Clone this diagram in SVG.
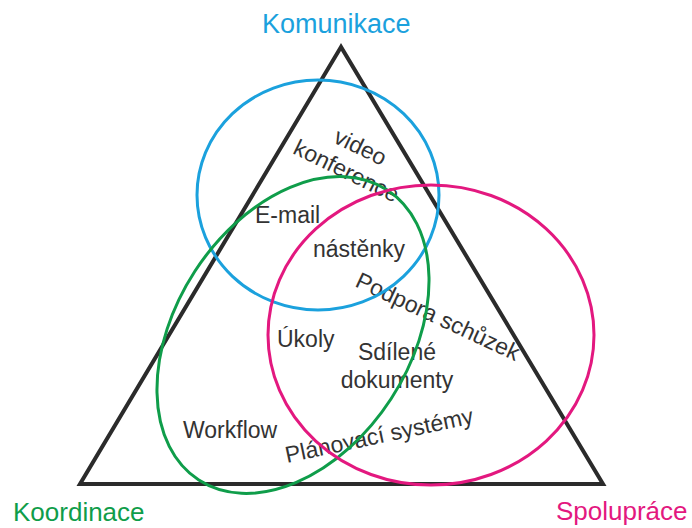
<svg xmlns="http://www.w3.org/2000/svg" width="692" height="528" viewBox="0 0 692 528">
  <style>
    .lbl { font-family: "Liberation Sans", Arial, sans-serif; font-size: 23px; fill: #333333; }
    .corner { font-family: "Liberation Sans", Arial, sans-serif; font-size: 27px; }
    .corner.low { font-size: 26px; }
    .ring { fill: none; stroke-width: 3; }
  </style>
  <rect width="692" height="528" fill="#ffffff"/>

  <!-- item labels -->
  <g id="labels">
    <text class="lbl" x="357" y="154" text-anchor="middle" transform="rotate(26 357 154)">video</text>
    <text class="lbl" x="343" y="178" text-anchor="middle" transform="rotate(26 343 178)">konference</text>
    <text class="lbl" x="255" y="223">E-mail</text>
    <text class="lbl" x="313" y="257">nástěnky</text>
    <text class="lbl" x="354" y="286" transform="rotate(25 354 286)">Podpora schůzek</text>
    <text class="lbl" x="277" y="347">Úkoly</text>
    <text class="lbl" x="397" y="360" text-anchor="middle">Sdílené</text>
    <text class="lbl" x="397" y="388" text-anchor="middle">dokumenty</text>
    <text class="lbl" x="183" y="438">Workflow</text>
    <text class="lbl" x="287" y="463" transform="rotate(-12 287 463)">Plánovací systémy</text>
  </g>

  <!-- frame triangle -->
  <g id="triangle">
    <polygon points="341,47 80,484 603,484" fill="none" stroke="#2b2b2b" stroke-width="4" stroke-linejoin="miter"/>
  </g>

  <!-- the three overlapping areas -->
  <g id="komunikace">
    <ellipse class="ring" cx="318" cy="195" rx="121" ry="115" stroke="#1ba1dd"/>
    <text class="corner" x="262" y="33" fill="#1ba1dd">Komunikace</text>
  </g>
  <g id="koordinace">
    <ellipse class="ring" cx="293" cy="335" rx="117" ry="173" transform="rotate(33 293 335)" stroke="#0f9d4a"/>
    <text class="corner low" x="13" y="521" fill="#0f9d4a">Koordinace</text>
  </g>
  <g id="spoluprace">
    <ellipse class="ring" cx="431" cy="335" rx="163" ry="150" stroke="#e3187f"/>
    <text class="corner low" x="556" y="520" fill="#e3187f">Spolupráce</text>
  </g>
</svg>
